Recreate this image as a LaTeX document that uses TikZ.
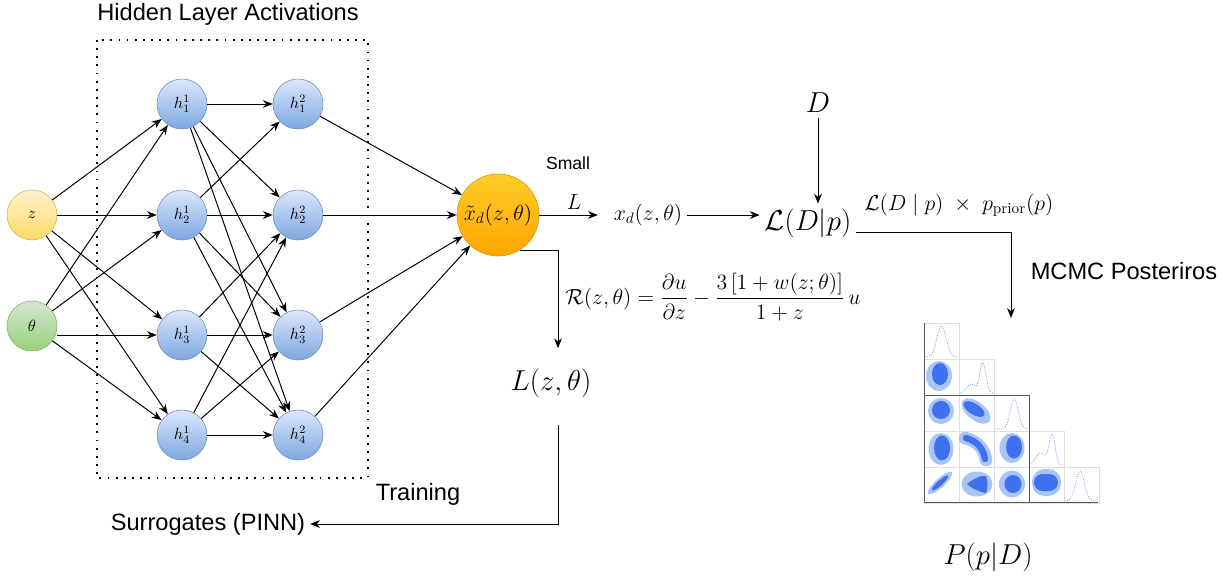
\documentclass[tikz,border=0pt]{standalone}
\usepackage{fix-cm}
\usepackage{amsmath}
\usepackage{fontspec}
\setsansfont{Liberation Sans}
\usepackage{tikz}
\usetikzlibrary{arrows.meta,positioning}
\definecolor{hidtop}{HTML}{DAE8FC}
\definecolor{hidbot}{HTML}{7EA6E0}
\definecolor{hidline}{HTML}{6C8EBF}
\definecolor{ztop}{HTML}{FFF2CC}
\definecolor{zbot}{HTML}{FFD966}
\definecolor{zline}{HTML}{D6B656}
\definecolor{ttop}{HTML}{D5E8D4}
\definecolor{tbot}{HTML}{97D077}
\definecolor{tline}{HTML}{82B366}
\definecolor{otop}{HTML}{FFCD28}
\definecolor{obot}{HTML}{FFA500}
\definecolor{oline}{HTML}{D79B00}
\definecolor{blobout}{HTML}{A9C4F7}
\definecolor{blobin}{HTML}{3F70EE}
\tikzset{
    neuron/.style={circle, minimum size=1.25cm, inner sep=0pt,
    font=\fontsize{11.5}{13}\selectfont},
    hid/.style={neuron, draw=hidline, top color=hidtop, bottom color=hidbot},
    zin/.style={neuron, draw=zline, top color=ztop, bottom color=zbot},
    thetain/.style={neuron, draw=tline, top color=ttop, bottom color=tbot},
    outn/.style={circle, minimum size=2.05cm, inner sep=0pt, draw=oline,
    top color=otop, bottom color=obot, font=\fontsize{15.5}{18}\selectfont},
    arr/.style={-{Stealth[length=7pt,width=5.5pt]}, line width=0.7pt},
    textlabel/.style={font=\sffamily\fontsize{16.8}{20}\selectfont},
    mathlbl/.style={font=\fontsize{15.5}{18}\selectfont},
    bigmath/.style={font=\fontsize{20.5}{24}\selectfont},
    cellline/.style={draw=gray!25, line width=0.4pt},
    axisline/.style={draw=gray!70!black, line width=0.6pt},
    density/.style={draw=blobin!70, densely dotted, line width=0.6pt},
}

\begin{document}
\begin{tikzpicture}[x=0.025cm, y=-0.025cm]
            \useasboundingbox (0,0) rectangle (1232,575);
            % --- inputs ---
            \node[zin] (z) at (32,215) {$z$};
            \node[thetain] (theta) at (32,326) {$\theta$};
            % --- hidden layers ---
            \node[hid] (h11) at (182,104) {$h^1_1$};
            \node[hid] (h12) at (182,215) {$h^1_2$};
            \node[hid] (h13) at (182,335) {$h^1_3$};
            \node[hid] (h14) at (182,435) {$h^1_4$};
            \node[hid] (h21) at (298,104) {$h^2_1$};
            \node[hid] (h22) at (298,215) {$h^2_2$};
            \node[hid] (h23) at (298,335) {$h^2_3$};
            \node[hid] (h24) at (298,435) {$h^2_4$};
            \draw[dash pattern=on 1.3pt off 4.5pt, line width=1.3pt] (97,40) rectangle (368,478);
            \node[textlabel] (hidtitle) at (228,14) {Hidden Layer Activations};
            % --- output ---
            \node[outn] (out) at (498,215) {$\tilde{x}_d(z,\theta)$};
            % --- input to first layer ---
            \draw[arr] (z) -- (h11);
            \draw[arr] (z) -- (h12);
            \draw[arr] (z) -- (h13);
            \draw[arr] (z) -- (h14);
            \draw[arr] (theta) -- (h11);
            \draw[arr] (theta) -- (h12);
            \draw[arr] (theta.east |- h13.west) -- (h13.west);
            \draw[arr] (theta) -- (h14);
            % --- first to second layer ---
            \draw[arr] (h11) -- (h21);
            \draw[arr] (h11) -- (h22);
            \draw[arr] (h11) -- (h23);
            \draw[arr] (h11) -- (h24);
            \draw[arr] (h12) -- (h21);
            \draw[arr] (h12) -- (h22);
            \draw[arr] (h12) -- (h23);
            \draw[arr] (h12) -- (h24);
            \draw[arr] (h13) -- (h22);
            \draw[arr] (h13) -- (h23);
            \draw[arr] (h13) -- (h24);
            \draw[arr] (h14) -- (h22);
            \draw[arr] (h14) -- (h23);
            \draw[arr] (h14) -- (h24);
            % --- second layer to output ---
            \draw[arr] (h21) -- (out);
            \draw[arr] (h22) -- (out);
            \draw[arr] (h23) -- (out);
            \draw[arr] (h24) -- (out);
            % --- likelihood ---
            \node[font=\sffamily\fontsize{12.5}{15}\selectfont] (small) at (568,163) {Small};
            \node[mathlbl] (xd) at (648,215) {$x_d(z,\theta)$};
            \draw[arr, shorten >=7.8pt] (out) -- node[above, mathlbl] {$L$} (xd);
            \node[bigmath] (lik) at (808,223) {$\mathcal{L}(D|p)$};
            \node[bigmath] (D) at (818,103) {$D$};
            \draw[arr] (D.south) -- (D.south |- lik.north);
            \draw[arr] (xd.east) -- (xd.east -| lik.west);
            \node[mathlbl] (prod) at (959,205) {$\mathcal{L}(D \mid p)\;\times\;p_{\mathrm{prior}}(p)$};
            \node[textlabel] (mcmc) at (1124,271) {MCMC Posteriros};
            % --- residual and training ---
            \node[mathlbl] (res) at (713,297) {$\displaystyle \mathcal{R}(z,\theta)=\frac{\partial u}{\partial z}-\frac{3\,[1+w(z;\theta)]}{1+z}\,u$};
            \node[bigmath] (Lz) at (551,383) {$L(z,\theta)$};
            \draw[arr, shorten >=11pt] (out.-58) -| ([xshift=0.175cm]Lz.north);
            \node[textlabel] (sur) at (208,524) {Surrogates (PINN)};
            \node[textlabel] (train) at (418,494) {Training};
            \draw[arr, shorten <=16pt] ([xshift=0.175cm]Lz.south) |- (sur.east);
            % --- corner plot ---
            \node[minimum width=4.35cm, minimum height=4.6cm, inner sep=0pt, outer sep=0pt] (corner) at (1011,410) {};
            \draw[arr] ([yshift=7pt]lik.south east) -| (corner.north);
            \foreach \j in {0,...,4} {
                \foreach \i in {0,...,\j} {
                    \draw[cellline] ({924+35*\i},{323+36*\j}) rectangle +(35,36);
                }
            }
            \begin{scope}[shift={(924,359)}]
                \fill[blobout] (15,17) ellipse [x radius=13, y radius=15];
                \fill[blobin] (16,15) ellipse [x radius=8, y radius=11];
            \end{scope}
            \begin{scope}[shift={(924,395)}]
                \fill[blobout] (17,16) ellipse [x radius=13, y radius=13];
                \fill[blobin] (17,15) ellipse [x radius=9, y radius=9];
            \end{scope}
            \begin{scope}[shift={(959,395)}]
                \fill[blobout, rotate around={-38:(17,16)}] (17,16) ellipse [x radius=17, y radius=9];
                \fill[blobin, rotate around={-32:(15,14)}] (15,14) ellipse [x radius=12, y radius=5.5];
            \end{scope}
            \begin{scope}[shift={(924,431)}]
                \fill[blobout] (17,18) ellipse [x radius=12.5, y radius=16];
                \fill[blobin] (18,17) ellipse [x radius=8, y radius=12.5];
            \end{scope}
            \begin{scope}[shift={(959,431)}]
                \draw[blobout, line width=9pt, line cap=round] (6,7) .. controls (18,10) and (25,17) .. (27,29);
                \draw[blobin, line width=4.5pt, line cap=round] (7,7) .. controls (18,10) and (24,17) .. (26,28);
            \end{scope}
            \begin{scope}[shift={(994,431)}]
                \fill[blobout] (18,17) ellipse [x radius=12.5, y radius=15];
                \fill[blobin] (20,16) ellipse [x radius=8, y radius=11.5];
            \end{scope}
            \begin{scope}[shift={(924,467)}]
                \fill[blobout, rotate around={42:(16,16)}] (16,16) ellipse [x radius=16, y radius=4.5];
                \fill[blobin, rotate around={42:(16,16)}] (16,16) ellipse [x radius=11, y radius=2.5];
            \end{scope}
            \begin{scope}[shift={(959,467)}]
                \fill[blobout] (18,17) ellipse [x radius=15.5, y radius=12.5];
                \fill[blobin] (8,17) .. controls (14,12) and (22,8) .. (27,9) .. controls (29,14) and (29,22) .. (27,26) .. controls (20,25) and (12,21) .. (8,17) -- cycle;
            \end{scope}
            \begin{scope}[shift={(994,467)}]
                \fill[blobout] (18,17) ellipse [x radius=13, y radius=13.5];
                \fill[blobin] (19,17) ellipse [x radius=8.5, y radius=9];
            \end{scope}
            \begin{scope}[shift={(1029,467)}]
                \fill[blobout, rounded corners=9pt] (3,2) rectangle (32,29);
                \fill[blobin, rounded corners=6pt] (5,7) rectangle (29,24);
            \end{scope}
            \draw[density, shift={(924,323)}] plot[domain=0.02:0.98, samples=50] ({35*\x}, {34-31*exp(-((\x-0.5)^2)/0.035)});
            \draw[density, shift={(959,359)}] plot[domain=0.02:0.98, samples=50] ({35*\x}, {34-30*exp(-((\x-0.68)^2)/0.015)-9*exp(-((\x-0.35)^2)/0.03)});
            \draw[density, shift={(994,395)}] plot[domain=0.02:0.98, samples=50] ({35*\x}, {34-30*exp(-((\x-0.58)^2)/0.025)});
            \draw[density, shift={(1029,431)}] plot[domain=0.02:0.98, samples=50] ({35*\x}, {34-30*exp(-((\x-0.66)^2)/0.015)-12*exp(-((\x-0.33)^2)/0.04)});
            \draw[density, shift={(1064,467)}] plot[domain=0.02:0.98, samples=50] ({35*\x}, {34-30*exp(-((\x-0.46)^2)/0.03)});
            \draw[axisline] (924,323) -- (924,502) -- (1098,502);
            \draw[axisline] (924,395) -- (1029,395) -- (1029,502);
            \node[bigmath] (post) at (988,557) {$P(p|D)$};
        \end{tikzpicture}
\end{document}
